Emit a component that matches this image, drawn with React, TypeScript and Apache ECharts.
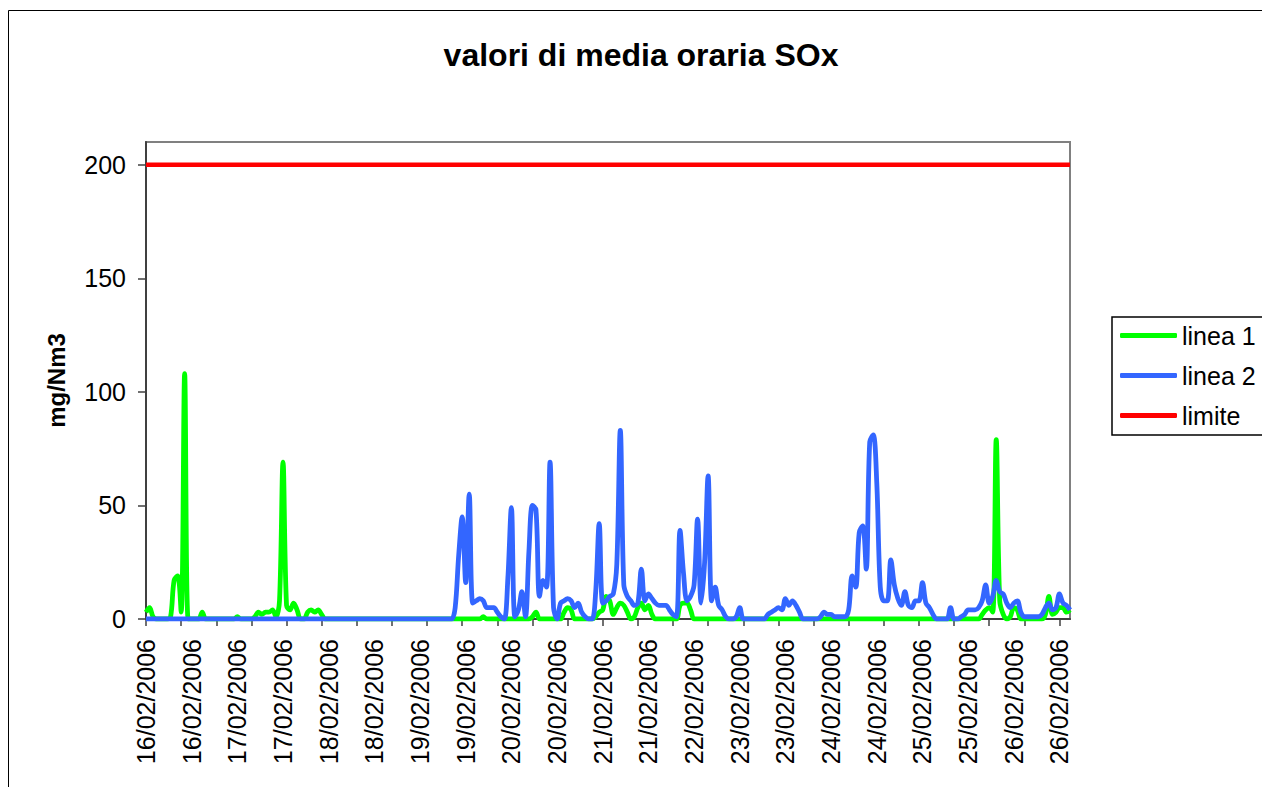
import React, { useEffect, useRef } from 'react';
import * as echarts from 'echarts';

const days = ['16/02/2006', '17/02/2006', '18/02/2006', '19/02/2006', '20/02/2006', '21/02/2006', '22/02/2006', '23/02/2006', '24/02/2006', '25/02/2006', '26/02/2006'];
const hours = ['00', '01', '02', '03', '04', '05', '06', '07', '08', '09', '10', '11', '12', '13', '14', '15', '16', '17', '18', '19', '20', '21', '22', '23'];
const categories = days.flatMap((d) => hours.map((h) => `${d} ${h}:00`));

// linea 1 (green), hourly values per day
const linea1 = [
  // 16/02
  3, 5, 1, 0, 0, 0, 0, 1, 17, 19, 3, 108, 0, 0, 0, 0, 3, 0, 0, 0, 0, 0, 0, 0,
  // 17/02
  0, 0, 1, 0, 0, 0, 0, 1, 3, 2, 3, 3, 4, 1, 8, 69, 6, 4, 7, 4, 0, 0, 3, 4,
  // 18/02
  3, 4, 2, 0, 0, 0, 0, 0, 0, 0, 0, 0, 0, 0, 0, 0, 0, 0, 0, 0, 0, 0, 0, 0,
  // 19/02
  0, 0, 0, 0, 0, 0, 0, 0, 0, 0, 0, 0, 0, 0, 0, 0, 0, 0, 0, 0, 0, 0, 0, 0,
  // 20/02
  1, 0, 0, 0, 0, 0, 0, 0, 0, 0, 0, 0, 0, 0, 1, 3, 0, 0, 0, 0, 0, 0, 0, 3,
  // 21/02
  5, 4, 0, 0, 0, 0, 0, 0, 1, 3, 4, 10, 8, 2, 5, 7, 6, 3, 0, 1, 5, 7, 4, 6,
  // 22/02
  2, 0, 0, 0, 0, 0, 0, 0, 6, 7, 7, 4, 0, 0, 0, 0, 0, 0, 0, 0, 0, 0, 0, 0,
  // 23/02
  0, 0, 0, 0, 0, 0, 0, 0, 0, 0, 0, 0, 0, 0, 0, 0, 0, 0, 0, 0, 0, 0, 0, 0,
  // 24/02
  0, 0, 0, 0, 0, 0, 0, 0, 0, 0, 0, 0, 0, 0, 0, 0, 0, 0, 0, 0, 0, 0, 0, 0,
  // 25/02
  0, 0, 0, 0, 0, 0, 0, 0, 0, 0, 0, 0, 0, 0, 0, 0, 0, 0, 0, 0, 0, 0, 2, 4,
  // 26/02
  5, 3, 79, 8, 2, 0, 1, 5, 4, 0, 0, 0, 0, 0, 0, 0, 2, 10, 2, 3, 5, 5, 3, 4,
];

// linea 2 (blue), hourly values per day
const linea2 = [
  // 16/02
  0, 0, 0, 0, 0, 0, 0, 0, 0, 0, 0, 0, 0, 0, 0, 0, 0, 0, 0, 0, 0, 0, 0, 0,
  // 17/02
  0, 0, 0, 0, 0, 0, 0, 0, 0, 0, 0, 0, 0, 0, 0, 0, 0, 0, 0, 0, 0, 0, 0, 0,
  // 18/02
  0, 0, 0, 0, 0, 0, 0, 0, 0, 0, 0, 0, 0, 0, 0, 0, 0, 0, 0, 0, 0, 0, 0, 0,
  // 19/02
  0, 0, 0, 0, 0, 0, 0, 0, 0, 0, 0, 0, 0, 0, 0, 0, 5, 28, 45, 16, 55, 7, 8, 9,
  // 20/02
  8, 5, 5, 5, 3, 1, 0, 18, 49, 1, 4, 12, 1, 30, 50, 48, 10, 17, 14, 69, 5, 0, 7, 8,
  // 21/02
  9, 8, 5, 7, 3, 1, 0, 0, 12, 42, 7, 8, 10, 11, 24, 83, 15, 10, 8, 6, 7, 22, 8, 11,
  // 22/02
  9, 7, 6, 6, 6, 4, 2, 1, 39, 20, 8, 10, 15, 44, 7, 25, 63, 8, 14, 6, 4, 1, 0, 0,
  // 23/02
  1, 5, 0, 0, 0, 0, 0, 0, 0, 2, 3, 4, 5, 4, 9, 6, 8, 6, 3, 0, 0, 0, 0, 0,
  // 24/02
  1, 3, 2, 2, 1, 1, 1, 1, 4, 19, 14, 38, 41, 22, 78, 81, 60, 14, 8, 8, 26, 15, 9, 6,
  // 25/02
  12, 6, 5, 8, 8, 16, 7, 5, 2, 0, 0, 0, 0, 5, 0, 0, 1, 2, 4, 4, 4, 5, 8, 15,
  // 26/02
  7, 10, 17, 12, 11, 7, 5, 7, 8, 3, 1, 1, 1, 1, 1, 2, 5, 7, 4, 5, 11, 7, 6, 4,
];

const LIMITE = 200;
const limite = categories.map(() => LIMITE);

const FONT = "'Liberation Sans', Arial, sans-serif";

export default function App() {
  const ref = useRef<HTMLDivElement>(null);

  useEffect(() => {
    if (!ref.current) return;
    const chart = echarts.init(ref.current, undefined, { renderer: 'svg' });
    chart.setOption({
      animation: false,
      backgroundColor: '#ffffff',
      textStyle: { fontFamily: FONT },
      graphic: [
        {
          type: 'rect',
          z: -10,
          silent: true,
          shape: { x: 8.5, y: 10.5, width: 1400, height: 900 },
          style: { fill: 'none', stroke: '#000000', lineWidth: 1 },
        },
      ],
      title: {
        text: 'valori di media oraria SOx',
        left: 'center',
        top: 34,
        textStyle: { fontSize: 32, fontWeight: 'bold', color: '#000000', fontFamily: FONT },
      },
      legend: {
        orient: 'vertical',
        left: 1112,
        top: 317,
        padding: [6, 40, 7, 8],
        itemGap: 15,
        itemWidth: 57,
        itemHeight: 5,
        icon: 'roundRect',
        borderColor: '#000000',
        borderWidth: 1.5,
        textStyle: { fontSize: 25, color: '#000000', fontFamily: FONT },
        data: ['linea 1', 'linea 2', 'limite'],
      },
      grid: {
        left: 146,
        top: 142,
        width: 924,
        height: 477,
        show: true,
        borderColor: '#808080',
        borderWidth: 2,
        backgroundColor: 'transparent',
      },
      xAxis: {
        type: 'category',
        data: categories,
        boundaryGap: false,
        axisLine: { show: true, lineStyle: { color: '#404040', width: 2 } },
        axisTick: { show: true, interval: 9, length: 7, lineStyle: { color: '#404040', width: 1.5 } },
        axisLabel: {
          interval: 12,
          rotate: 90,
          fontSize: 25,
          color: '#000000',
          margin: 20,
          fontFamily: FONT,
          formatter: (v: string) => v.slice(0, 10),
        },
        splitLine: { show: false },
      },
      yAxis: {
        type: 'value',
        min: 0,
        max: 210,
        interval: 50,
        name: 'mg/Nm3',
        nameLocation: 'middle',
        nameGap: 78,
        nameTextStyle: { fontSize: 24, fontWeight: 'bold', color: '#000000', fontFamily: FONT },
        axisLine: { show: true, lineStyle: { color: '#404040', width: 2 } },
        axisTick: { show: true, length: 8, lineStyle: { color: '#404040', width: 1.5 } },
        axisLabel: { fontSize: 25, color: '#000000', margin: 20, showMaxLabel: false, fontFamily: FONT },
        splitLine: { show: false },
      },
      series: [
        {
          name: 'linea 1',
          type: 'line',
          data: linea1,
          smooth: 0.35,
          symbol: 'none',
          lineStyle: { color: '#00FF00', width: 4.8 },
          itemStyle: { color: '#00FF00' },
        },
        {
          name: 'linea 2',
          type: 'line',
          data: linea2,
          smooth: 0.35,
          symbol: 'none',
          lineStyle: { color: '#3366FF', width: 4.8 },
          itemStyle: { color: '#3366FF' },
        },
        {
          name: 'limite',
          type: 'line',
          data: limite,
          symbol: 'none',
          lineStyle: { color: '#FF0000', width: 4.5 },
          itemStyle: { color: '#FF0000' },
        },
      ],
    });
    return () => chart.dispose();
  }, []);

  return (
    <div
      style={{
        position: 'fixed',
        left: 0,
        top: 0,
        width: 1262,
        height: 787,
        overflow: 'hidden',
        background: '#ffffff',
      }}
    >
      <div ref={ref} style={{ width: 1282, height: 787 }} />
    </div>
  );
}
